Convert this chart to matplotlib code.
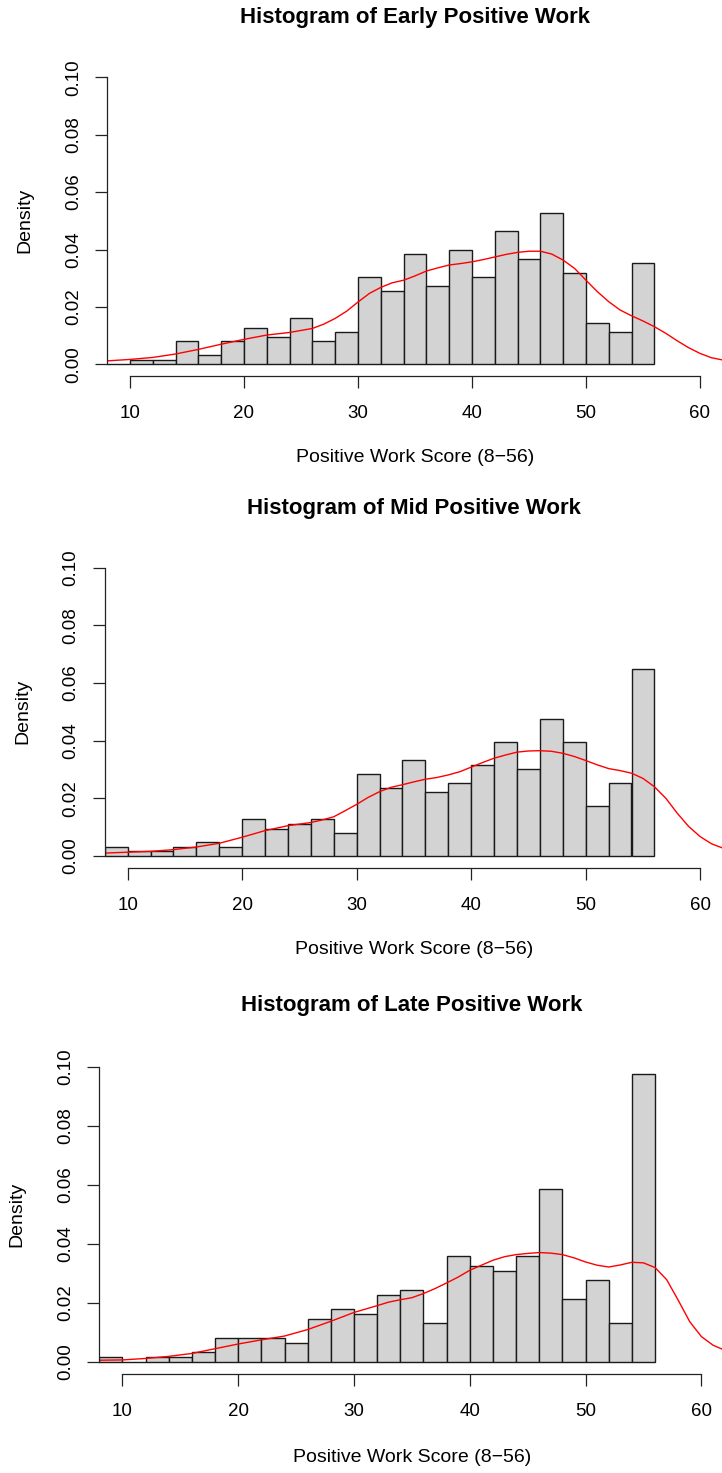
import matplotlib
matplotlib.use("Agg")
import matplotlib.pyplot as plt
from matplotlib.ticker import FormatStrFormatter

plt.rcParams["font.family"] = ["Liberation Sans", "DejaVu Sans"]

W, H = 722, 1473
BAR_CLR = "#d3d3d3"
KDE_CLR = "red"

# ── data ───────────────────────────────────────────────────────────────────
BIN_EDGES = [8, 10, 12, 14, 16, 18, 20, 22, 24, 26, 28, 30, 32,
             34, 36, 38, 40, 42, 44, 46, 48, 50, 52, 54, 56]
BIN_MIDS = [9, 11, 13, 15, 17, 19, 21, 23, 25, 27, 29, 31,
            33, 35, 37, 39, 41, 43, 45, 47, 49, 51, 53, 55]

TITLES = ["Histogram of Early Positive Work",
          "Histogram of Mid Positive Work",
          "Histogram of Late Positive Work"]
XLABEL = "Positive Work Score (8\u221256)"
YLABEL = "Density"

# counts per bin (density = count / (n * 2))
early_counts = [0, 1, 1, 5, 2, 5, 8, 6, 10, 5, 7, 19,
                16, 24, 17, 25, 19, 29, 23, 33, 20, 9, 7, 22]
mid_counts = [2, 1, 1, 2, 3, 2, 8, 6, 7, 8, 5, 18,
              15, 21, 14, 16, 20, 25, 19, 30, 25, 11, 16, 41]
late_counts = [1, 0, 1, 1, 2, 5, 5, 5, 4, 9, 11, 10,
               14, 15, 8, 22, 20, 19, 22, 36, 13, 17, 8, 60]

# density curves
early_kde_x = [8, 10, 12, 14, 16, 18, 20, 22, 24, 26, 27, 28, 29, 30, 31, 32,
               33, 34, 35, 36, 37, 38, 39, 40, 41, 42, 43, 44, 45, 46, 47, 48,
               49, 50, 51, 52, 53, 54, 55, 56, 57, 58, 59, 60, 61, 62]
early_kde_y = [0.0012, 0.0017, 0.0024, 0.0036, 0.0052, 0.0070, 0.0087, 0.0102,
               0.0111, 0.0125, 0.0140, 0.0160, 0.0185, 0.0217, 0.0247, 0.0268,
               0.0284, 0.0293, 0.0308, 0.0325, 0.0336, 0.0346, 0.0351, 0.0357,
               0.0365, 0.0374, 0.0383, 0.0390, 0.0394, 0.0394, 0.0384, 0.0363,
               0.0334, 0.0293, 0.0253, 0.0218, 0.0189, 0.0169, 0.0151, 0.0131,
               0.0108, 0.0082, 0.0058, 0.0038, 0.0023, 0.0015]

mid_kde_x = early_kde_x
mid_kde_y = [0.0010, 0.0013, 0.0016, 0.0022, 0.0031, 0.0044, 0.0065, 0.0088,
             0.0105, 0.0116, 0.0125, 0.0136, 0.0157, 0.0179, 0.0203, 0.0223,
             0.0238, 0.0247, 0.0257, 0.0266, 0.0272, 0.0281, 0.0292, 0.0308,
             0.0324, 0.0339, 0.0350, 0.0360, 0.0364, 0.0365, 0.0363, 0.0356,
             0.0345, 0.0331, 0.0316, 0.0303, 0.0296, 0.0287, 0.0269, 0.0240,
             0.0200, 0.0148, 0.0102, 0.0067, 0.0042, 0.0027]

late_kde_x = [8, 10, 12, 14, 16, 18, 20, 22, 24, 26, 28, 30, 32, 33, 34, 35,
              36, 37, 38, 39, 40, 41, 42, 43, 44, 45, 46, 47, 48, 49, 50, 51,
              52, 53, 54, 55, 56, 57, 58, 59, 60, 61, 62]
late_kde_y = [0.0005, 0.0006, 0.0011, 0.0018, 0.0028, 0.0044, 0.0060, 0.0074,
              0.0087, 0.0109, 0.0137, 0.0167, 0.0190, 0.0202, 0.0210, 0.0217,
              0.0231, 0.0248, 0.0267, 0.0287, 0.0310, 0.0327, 0.0344, 0.0356,
              0.0363, 0.0367, 0.0370, 0.0368, 0.0363, 0.0352, 0.0338, 0.0327,
              0.0321, 0.0328, 0.0337, 0.0335, 0.0319, 0.0278, 0.0208, 0.0135,
              0.0085, 0.0056, 0.0039]

X_TICKS = [10, 20, 30, 40, 50, 60]
Y_TICKS = [0.00, 0.02, 0.04, 0.06, 0.08, 0.10]

# ── layout (pixel boxes: left, right, top, bottom) ─────────────────────────
BOXES = [(107.2, 722.8, 65.8, 375.8),
         (104.8, 723.1, 556.0, 867.5),
         (99.2, 724.6, 1054.9, 1373.5)]
TITLE_Y = [18, 508, 1005]
XLAB_Y = [458, 950, 1458]

panels = [(early_counts, early_kde_x, early_kde_y),
          (mid_counts, mid_kde_x, mid_kde_y),
          (late_counts, late_kde_x, late_kde_y)]

fig = plt.figure(figsize=(W / 100, H / 100), dpi=100, facecolor="white")

for i, (counts, kx, ky) in enumerate(panels):
    l, r, t, b = BOXES[i]
    ax = fig.add_axes([l / W, 1 - b / H, (r - l) / W, (b - t) / H])
    ax.set_facecolor("none")

    ax.hist(BIN_MIDS, bins=BIN_EDGES, weights=counts, density=True,
            color=BAR_CLR, edgecolor="#1a1a1a", linewidth=1.0)
    ax.plot(kx, ky, color=KDE_CLR, linewidth=1.0, solid_joinstyle="round")

    ax.set_xlim(8, 62)
    ax.set_ylim(-0.004, 0.104)
    ax.spines["top"].set_visible(False)
    ax.spines["right"].set_visible(False)
    ax.spines["left"].set_bounds(0, 0.1)
    ax.spines["bottom"].set_bounds(10, 60)
    for s in ("left", "bottom"):
        ax.spines[s].set_linewidth(0.9)
        ax.spines[s].set_color("#222222")

    ax.set_xticks(X_TICKS)
    ax.set_yticks(Y_TICKS)
    ax.yaxis.set_major_formatter(FormatStrFormatter("%.2f"))
    ax.tick_params(axis="x", length=8.6, width=0.9, pad=12.5, labelsize=13.5,
                   color="#222222")
    ax.tick_params(axis="y", length=8.6, width=0.9, pad=9.5, labelsize=13.5,
                   color="#222222")
    for lab in ax.get_yticklabels():
        lab.set_rotation(90)
        lab.set_va("center")

    cx = (l + r) / 2
    fig.text(cx / W, 1 - TITLE_Y[i] / H, TITLES[i], ha="center", va="center",
             fontsize=16, fontweight="bold")
    fig.text(cx / W, 1 - XLAB_Y[i] / H, XLABEL, ha="center", va="center",
             fontsize=14)
    fig.text((l - 82) / W, 1 - (t + b) / 2 / H, YLABEL, ha="center",
             va="center", rotation=90, fontsize=14)

fig.savefig("out.png", dpi=100, facecolor="white")
